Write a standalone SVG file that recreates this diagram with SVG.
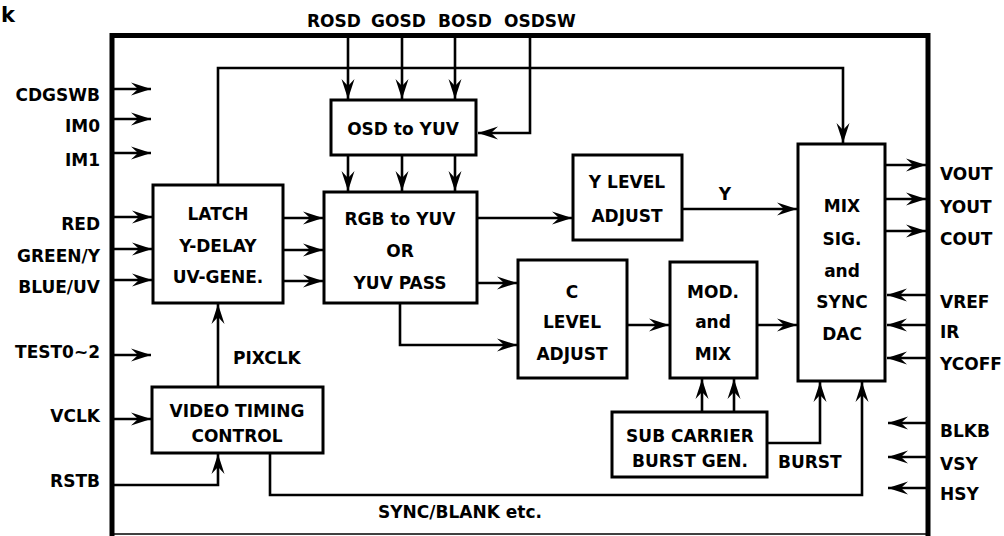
<svg xmlns="http://www.w3.org/2000/svg" width="1004" height="536" viewBox="0 0 1004 536">
<defs>
<marker id="a" viewBox="-21 -7 22 14" refX="0" refY="0" markerWidth="22" markerHeight="14" markerUnits="userSpaceOnUse" orient="auto">
<path d="M0,0 L-20,-6.5 L-13,0 L-20,6.5 Z" fill="#000"/>
</marker>
</defs>
<style>
text{font-family:"DejaVu Sans","Liberation Sans",sans-serif;font-weight:bold;font-size:17px;fill:#000}
.m{text-anchor:middle}
.e{text-anchor:end}
.box{fill:#fff;stroke:#000;stroke-width:3}
.c{fill:none;stroke:#000;stroke-width:2.6;marker-end:url(#a)}
</style>
<rect width="1004" height="536" fill="#fff"/>
<text x="1" y="22" style="font-size:21px">k</text>
<g id="chip-border">
<path d="M112,536 V35.5 H928 V536" fill="none" stroke="#000" stroke-width="5"/>
<path d="M112,534 H928" fill="none" stroke="#000" stroke-width="1.5"/>
</g>
<g id="connectors">
<path class="c" d="M348,38 V99"/>
<path class="c" d="M402,38 V99"/>
<path class="c" d="M455,38 V99"/>
<path class="c" d="M530,38 V133 H478"/>
<path class="c" d="M348,155 V191"/>
<path class="c" d="M402,155 V191"/>
<path class="c" d="M455,155 V191"/>
<path class="c" d="M218,185 V68 H843 V143"/>
<path class="c" d="M114,89 H151"/>
<path class="c" d="M114,119 H151"/>
<path class="c" d="M114,153 H151"/>
<path class="c" d="M114,217 H152"/>
<path class="c" d="M114,249 H152"/>
<path class="c" d="M114,280 H152"/>
<path class="c" d="M114,355 H151"/>
<path class="c" d="M114,419 H151"/>
<path class="c" d="M114,485 H218 V454"/>
<path class="c" d="M218,387 V304"/>
<path class="c" d="M283,218 H323"/>
<path class="c" d="M283,250 H323"/>
<path class="c" d="M283,281 H323"/>
<path class="c" d="M477,218 H572"/>
<path class="c" d="M477,283 H517"/>
<path class="c" d="M400,303 V345 H517"/>
<path class="c" d="M682,209 H797"/>
<path class="c" d="M627,325 H669"/>
<path class="c" d="M757,325 H797"/>
<path class="c" d="M702,412 V379"/>
<path class="c" d="M734,412 V379"/>
<path class="c" d="M767,443 H820 V382"/>
<path class="c" d="M270,453 V495 H862 V382"/>
<path class="c" d="M885,165 H926"/>
<path class="c" d="M885,199 H926"/>
<path class="c" d="M885,231 H926"/>
<path class="c" d="M926,295 H887"/>
<path class="c" d="M926,325 H887"/>
<path class="c" d="M926,358 H887"/>
<path class="c" d="M926,423 H888"/>
<path class="c" d="M926,457 H888"/>
<path class="c" d="M926,488 H888"/>
</g>
<g id="osd-to-yuv"><rect class="box" x="331" y="100" width="145" height="55"/><text class="m" x="403" y="135">OSD to YUV</text></g>
<g id="latch"><rect class="box" x="153" y="185" width="130" height="118"/>
<text class="m" x="218" y="220">LATCH</text><text class="m" x="218" y="252">Y-DELAY</text><text class="m" x="218" y="283">UV-GENE.</text></g>
<g id="rgb-to-yuv"><rect class="box" x="324" y="192" width="153" height="111"/>
<text class="m" x="400" y="225">RGB to YUV</text><text class="m" x="400" y="257">OR</text><text class="m" x="400" y="289">YUV PASS</text></g>
<g id="y-level"><rect class="box" x="573" y="155" width="109" height="85"/>
<text class="m" x="627" y="188">Y LEVEL</text><text class="m" x="627" y="222">ADJUST</text></g>
<g id="c-level"><rect class="box" x="518" y="260" width="109" height="118"/>
<text class="m" x="572" y="298">C</text><text class="m" x="572" y="328">LEVEL</text><text class="m" x="572" y="360">ADJUST</text></g>
<g id="mod-mix"><rect class="box" x="670" y="262" width="87" height="116"/>
<text class="m" x="713" y="298">MOD.</text><text class="m" x="713" y="328">and</text><text class="m" x="713" y="360">MIX</text></g>
<g id="mix-dac"><rect class="box" x="798" y="144" width="87" height="237"/>
<text class="m" x="842" y="212">MIX</text><text class="m" x="842" y="245">SIG.</text><text class="m" x="842" y="277">and</text><text class="m" x="842" y="308">SYNC</text><text class="m" x="842" y="340">DAC</text></g>
<g id="video-timing"><rect class="box" x="152" y="387" width="171" height="66"/>
<text class="m" x="237" y="417">VIDEO TIMING</text><text class="m" x="237" y="442">CONTROL</text></g>
<g id="sub-carrier"><rect class="box" x="612" y="412" width="155" height="65"/>
<text class="m" x="690" y="442">SUB CARRIER</text><text class="m" x="690" y="467">BURST GEN.</text></g>
<g id="labels">
<text x="307" y="27">ROSD</text><text x="371" y="27">GOSD</text><text x="438" y="27">BOSD</text><text x="504" y="27">OSDSW</text>
<text class="e" x="100" y="101">CDGSWB</text>
<text class="e" x="100" y="132">IM0</text>
<text class="e" x="100" y="166">IM1</text>
<text class="e" x="100" y="230">RED</text>
<text class="e" x="100" y="262">GREEN/Y</text>
<text class="e" x="100" y="293">BLUE/UV</text>
<text class="e" x="100" y="358">TEST0~2</text>
<text class="e" x="100" y="422">VCLK</text>
<text class="e" x="100" y="487">RSTB</text>
<text x="233" y="364">PIXCLK</text>
<text class="m" x="725" y="200">Y</text>
<text x="778" y="468">BURST</text>
<text x="378" y="518">SYNC/BLANK etc.</text>
<text x="940" y="180">VOUT</text>
<text x="940" y="213">YOUT</text>
<text x="940" y="245">COUT</text>
<text x="940" y="308">VREF</text>
<text x="940" y="338">IR</text>
<text x="940" y="370">YCOFF</text>
<text x="940" y="437">BLKB</text>
<text x="940" y="470">VSY</text>
<text x="940" y="500">HSY</text>
</g>
</svg>
